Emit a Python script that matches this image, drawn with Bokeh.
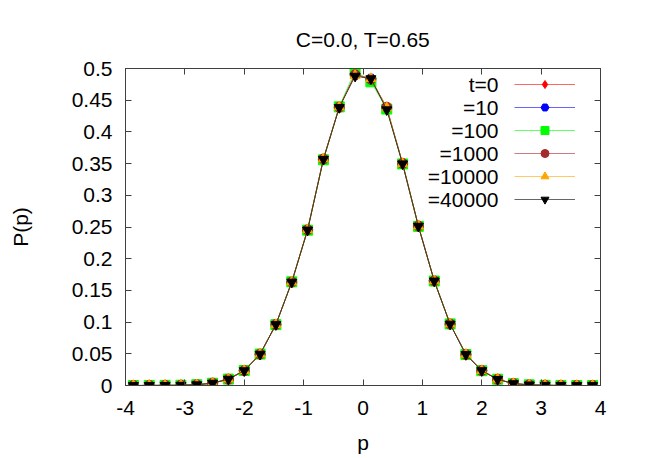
from bokeh.plotting import figure
from bokeh.models import (Legend, LegendItem, Label, FixedTicker, LinearAxis, ColumnDataSource)
from bokeh.embed import file_html
from bokeh.resources import INLINE

# ---------------- data ----------------
p_vals = [-3.867, -3.6, -3.333, -3.067, -2.8, -2.533, -2.267, -2.0, -1.733, -1.467,
          -1.2, -0.933, -0.667, -0.4, -0.133, 0.133, 0.4, 0.667, 0.933, 1.2,
          1.467, 1.733, 2.0, 2.267, 2.533, 2.8, 3.067, 3.333, 3.6, 3.867]

P_t0 = [0.0, 0.0001, 0.0002, 0.0004, 0.0012, 0.0037, 0.0100, 0.0235, 0.0495, 0.0962,
        0.1632, 0.2455, 0.3570, 0.4390, 0.4910, 0.4840, 0.4370, 0.3500, 0.2515, 0.1650,
        0.0970, 0.0490, 0.0235, 0.0098, 0.0030, 0.0010, 0.0003, 0.0001, 0.0, 0.0]
P_t10 = [0.0, 0.0001, 0.0002, 0.0004, 0.0012, 0.0037, 0.0100, 0.0236, 0.0494, 0.0963,
         0.1630, 0.2456, 0.3568, 0.4392, 0.4900, 0.4840, 0.4372, 0.3498, 0.2514, 0.1652,
         0.0969, 0.0491, 0.0236, 0.0097, 0.0030, 0.0010, 0.0003, 0.0001, 0.0, 0.0]
P_t100 = [0.0, 0.0001, 0.0002, 0.0004, 0.0012, 0.0036, 0.0101, 0.0237, 0.0496, 0.0960,
          0.1635, 0.2450, 0.3560, 0.4395, 0.4970, 0.4790, 0.4360, 0.3495, 0.2510, 0.1648,
          0.0972, 0.0489, 0.0234, 0.0099, 0.0029, 0.0010, 0.0003, 0.0001, 0.0, 0.0]
P_t1000 = [0.0, 0.0001, 0.0002, 0.0004, 0.0012, 0.0037, 0.0099, 0.0235, 0.0495, 0.0962,
           0.1632, 0.2455, 0.3572, 0.4388, 0.4900, 0.4830, 0.4390, 0.3502, 0.2516, 0.1650,
           0.0970, 0.0490, 0.0235, 0.0098, 0.0030, 0.0010, 0.0003, 0.0001, 0.0, 0.0]
P_t10000 = [0.0, 0.0001, 0.0002, 0.0004, 0.0012, 0.0037, 0.0100, 0.0235, 0.0496, 0.0961,
            0.1633, 0.2457, 0.3575, 0.4392, 0.4890, 0.4840, 0.4380, 0.3500, 0.2515, 0.1651,
            0.0970, 0.0490, 0.0236, 0.0098, 0.0030, 0.0010, 0.0003, 0.0001, 0.0, 0.0]
P_t40000 = [0.0, 0.0001, 0.0002, 0.0004, 0.0012, 0.0037, 0.0100, 0.0234, 0.0494, 0.0961,
            0.1631, 0.2453, 0.3568, 0.4385, 0.4880, 0.4840, 0.4350, 0.3497, 0.2513, 0.1649,
            0.0969, 0.0489, 0.0235, 0.0097, 0.0030, 0.0010, 0.0003, 0.0001, 0.0, 0.0]

series_labels = ["t=0", "=10", "=100", "=1000", "=10000", "=40000"]
series_values = [P_t0, P_t10, P_t100, P_t1000, P_t10000, P_t40000]

x_ticks = [-4, -3, -2, -1, 0, 1, 2, 3, 4]
x_tick_labels = ["-4", "-3", "-2", "-1", "0", "1", "2", "3", "4"]
y_ticks = [0.0, 0.05, 0.1, 0.15, 0.2, 0.25, 0.3, 0.35, 0.4, 0.45, 0.5]
y_tick_labels = ["0", "0.05", "0.1", "0.15", "0.2", "0.25", "0.3", "0.35", "0.4", "0.45", "0.5"]

title_text = "C=0.0, T=0.65"
x_label = "p"
y_label = "P(p)"

# ---------------- styles ----------------
colors = ["#ff0000", "#0000ff", "#00ff00", "#a52a2a", "#ffa500", "#000000"]
markers = ["diamond", "hex", "square", "circle", "triangle", "inverted_triangle"]
msizes = [11, 10, 10, 10, 10, 10]
FONT = "Liberation Sans"
FS = "21px"
FRAME_COL = "#404040"

p = figure(width=654, height=458, x_range=(-4, 4), y_range=(0, 0.5),
           output_backend="svg", toolbar_location=None,
           min_border_left=125, min_border_right=54, min_border_top=68, min_border_bottom=73)

p.grid.visible = False
p.outline_line_color = FRAME_COL
p.outline_line_width = 1
p.background_fill_color = "white"
p.border_fill_color = "white"

p.title.text = title_text
p.title.align = "center"
p.title.text_font = FONT
p.title.text_font_size = FS
p.title.text_font_style = "normal"
p.title.text_color = "black"
p.title.standoff = 36

xt = FixedTicker(ticks=x_ticks)
yt = FixedTicker(ticks=y_ticks)

for ax in p.xaxis:
    ax.ticker = xt
    ax.major_label_overrides = {t: l for t, l in zip(x_ticks, x_tick_labels)}
    ax.axis_label = x_label
for ax in p.yaxis:
    ax.ticker = yt
    ax.major_label_overrides = {t: l for t, l in zip(y_ticks, y_tick_labels)}
    ax.axis_label = y_label

for ax in list(p.xaxis) + list(p.yaxis):
    ax.major_tick_in = 6
    ax.major_tick_out = 0
    ax.minor_tick_line_color = None
    ax.axis_line_color = FRAME_COL
    ax.major_tick_line_color = FRAME_COL
    ax.major_label_text_font = FONT
    ax.major_label_text_font_size = FS
    ax.major_label_text_color = "black"
    ax.axis_label_text_font = FONT
    ax.axis_label_text_font_size = FS
    ax.axis_label_text_font_style = "normal"
    ax.axis_label_text_color = "black"

p.xaxis.major_label_standoff = 15
p.yaxis.major_label_standoff = 13
p.xaxis.axis_label_standoff = 13
p.yaxis.axis_label_standoff = 37

# mirrored axes (ticks only)
for loc, tk in (("right", yt), ("above", xt)):
    ax = LinearAxis(ticker=tk)
    ax.major_tick_in = 6
    ax.major_tick_out = 0
    ax.minor_tick_line_color = None
    ax.axis_line_color = FRAME_COL
    ax.major_tick_line_color = FRAME_COL
    ax.major_label_text_font_size = "0px"
    ax.major_label_text_alpha = 0
    ax.major_label_standoff = 0
    p.add_layout(ax, loc)

items = []
for lab, vals, c, m, s in zip(series_labels, series_values, colors, markers, msizes):
    src = ColumnDataSource(dict(x=p_vals, y=vals))
    r1 = p.line("x", "y", source=src, line_color=c, line_width=1, line_alpha=0.6)
    r2 = p.scatter("x", "y", source=src, marker=m, size=s, fill_color=c, line_color=c)
    items.append(LegendItem(label=" ", renderers=[r1, r2]))

legend = Legend(items=items, location=(389, 176), orientation="vertical",
                glyph_width=61, glyph_height=20, spacing=3, padding=0, margin=0,
                label_width=0, label_standoff=0, label_height=20,
                label_text_font_size="10px",
                border_line_color=None, background_fill_alpha=0)
p.add_layout(legend, "center")

# legend texts (right aligned, left of the samples)
row_y = [301, 278, 255, 232, 209, 186]
for lab, yy in zip(series_labels, row_y):
    p.add_layout(Label(x=373, y=yy, x_units="screen", y_units="screen", text=lab,
                       text_align="right", text_baseline="middle",
                       text_font=FONT, text_font_size=FS, text_color="black"))

open("out.html", "w").write(file_html(p, INLINE))
